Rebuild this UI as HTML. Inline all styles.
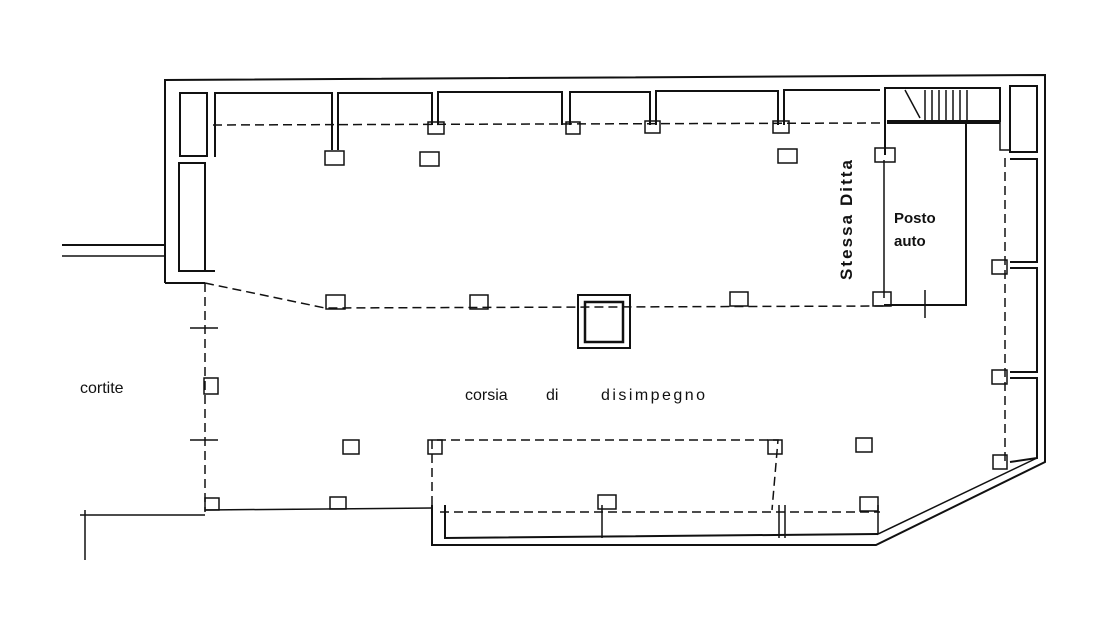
<!DOCTYPE html>
<html><head><meta charset="utf-8"><style>
html,body{margin:0;padding:0;background:#fff;width:1096px;height:627px;overflow:hidden}
svg{display:block}
text{font-family:"Liberation Sans",sans-serif;fill:#111}
</style></head><body>
<svg width="1096" height="627" viewBox="0 0 1096 627" xmlns="http://www.w3.org/2000/svg">
<g stroke="#111" fill="none" stroke-width="2">
<polyline points="165,283 165,80 1045,75 1045,462 876,545 432,545 432,505"/>
<polyline points="205,283 165,283"/>
<line x1="62" y1="245" x2="165" y2="245"/><line x1="62" y1="256" x2="165" y2="256" stroke-width="1.5"/>
<rect x="180" y="93" width="27" height="63"/>
<rect x="179" y="163" width="26" height="108"/>
<polyline points="205,271 215,271"/>
<polyline points="215,157 215,93 332,93 332,150"/>
<polyline points="338,150 338,93 432,93 432,125"/>
<polyline points="438,125 438,92 562,92 562,125"/>
<polyline points="570,125 570,92 650,92 650,125"/>
<polyline points="656,125 656,91 778,91 778,125"/>
<polyline points="784,125 784,90 880,90"/>
<polyline points="885,155 885,88 1000,88 1000,122"/>
<line x1="887" y1="122" x2="1000" y2="122" stroke-width="4"/>
<g stroke-width="1.5">
<line x1="905" y1="90" x2="920" y2="118"/>
<line x1="925" y1="90" x2="925" y2="120"/><line x1="932" y1="90" x2="932" y2="120"/><line x1="939" y1="90" x2="939" y2="120"/><line x1="946" y1="90" x2="946" y2="120"/><line x1="953" y1="90" x2="953" y2="120"/><line x1="960" y1="90" x2="960" y2="120"/><line x1="967" y1="90" x2="967" y2="120"/>
</g>
<polyline points="884,160 884,298" stroke-width="1.5"/>
<polyline points="966,122 966,305 884,305"/>
<line x1="925" y1="290" x2="925" y2="318" stroke-width="1.5"/>
<rect x="1010" y="86" width="27" height="66"/>
<polyline points="1010,159 1037,159 1037,262 1010,262"/>
<polyline points="1010,268 1037,268 1037,372 1010,372"/>
<polyline points="1010,378 1037,378 1037,458 1010,462"/>
<polyline points="1000,122 1000,150 1010,150" stroke-width="1.5"/>
<polyline points="1037,458 878,534 878,505" stroke-width="1.5"/>
<polyline points="445,505 445,538 878,534"/>
<line x1="602" y1="505" x2="602" y2="538" stroke-width="1.5"/>
<line x1="779" y1="505" x2="779" y2="538" stroke-width="1.5"/>
<line x1="785" y1="505" x2="785" y2="538" stroke-width="1.5"/>
<polyline points="80,515 205,515" stroke-width="1.5"/>
<line x1="85" y1="510" x2="85" y2="560" stroke-width="1.5"/>
<polyline points="205,510 432,508" stroke-width="1.5"/>
<rect x="578" y="295" width="52" height="53"/>
<rect x="585" y="302" width="38" height="40" stroke-width="2.5"/>
</g>
<g stroke="#111" fill="none" stroke-width="1.5" stroke-dasharray="9,5">
<line x1="213" y1="125" x2="885" y2="123"/>
<polyline points="205,283 325,308 884,306"/>
<line x1="205" y1="283" x2="205" y2="512"/>
<polyline points="432,505 432,440 778,440 772,510"/>
<line x1="440" y1="512" x2="880" y2="512"/>
<line x1="1005" y1="158" x2="1005" y2="462"/>
</g>
<g stroke="#111" fill="none" stroke-width="1.5">
<rect x="325" y="151" width="19" height="14"/>
<rect x="420" y="152" width="19" height="14"/>
<rect x="778" y="149" width="19" height="14"/>
<rect x="428" y="122" width="16" height="12"/>
<rect x="566" y="122" width="14" height="12"/>
<rect x="645" y="121" width="15" height="12"/>
<rect x="773" y="121" width="16" height="12"/>
<rect x="875" y="148" width="20" height="14"/>
<rect x="326" y="295" width="19" height="14"/>
<rect x="470" y="295" width="18" height="14"/>
<rect x="730" y="292" width="18" height="14"/>
<rect x="873" y="292" width="18" height="14"/>
<rect x="204" y="378" width="14" height="16"/>
<rect x="343" y="440" width="16" height="14"/>
<rect x="856" y="438" width="16" height="14"/>
<rect x="428" y="440" width="14" height="14"/>
<rect x="768" y="440" width="14" height="14"/>
<rect x="205" y="498" width="14" height="12"/>
<rect x="330" y="497" width="16" height="12"/>
<rect x="598" y="495" width="18" height="14"/>
<rect x="860" y="497" width="18" height="14"/>
<rect x="992" y="370" width="15" height="14"/>
<rect x="992" y="260" width="15" height="14"/>
<rect x="993" y="455" width="14" height="14"/>
<line x1="190" y1="328" x2="218" y2="328"/>
<line x1="190" y1="440" x2="218" y2="440"/>
</g>
<text x="80" y="393" font-size="16">cortite</text>
<text x="465" y="400" font-size="16">corsia</text>
<text x="546" y="400" font-size="16">di</text>
<text x="601" y="400" font-size="16" textLength="104">disimpegno</text>
<text transform="translate(852,280) rotate(-90)" font-size="17" font-weight="bold" textLength="120">Stessa  Ditta</text>
<text x="894" y="223" font-size="15" font-weight="bold">Posto</text>
<text x="894" y="246" font-size="15" font-weight="bold">auto</text>
</svg>
</body></html>
